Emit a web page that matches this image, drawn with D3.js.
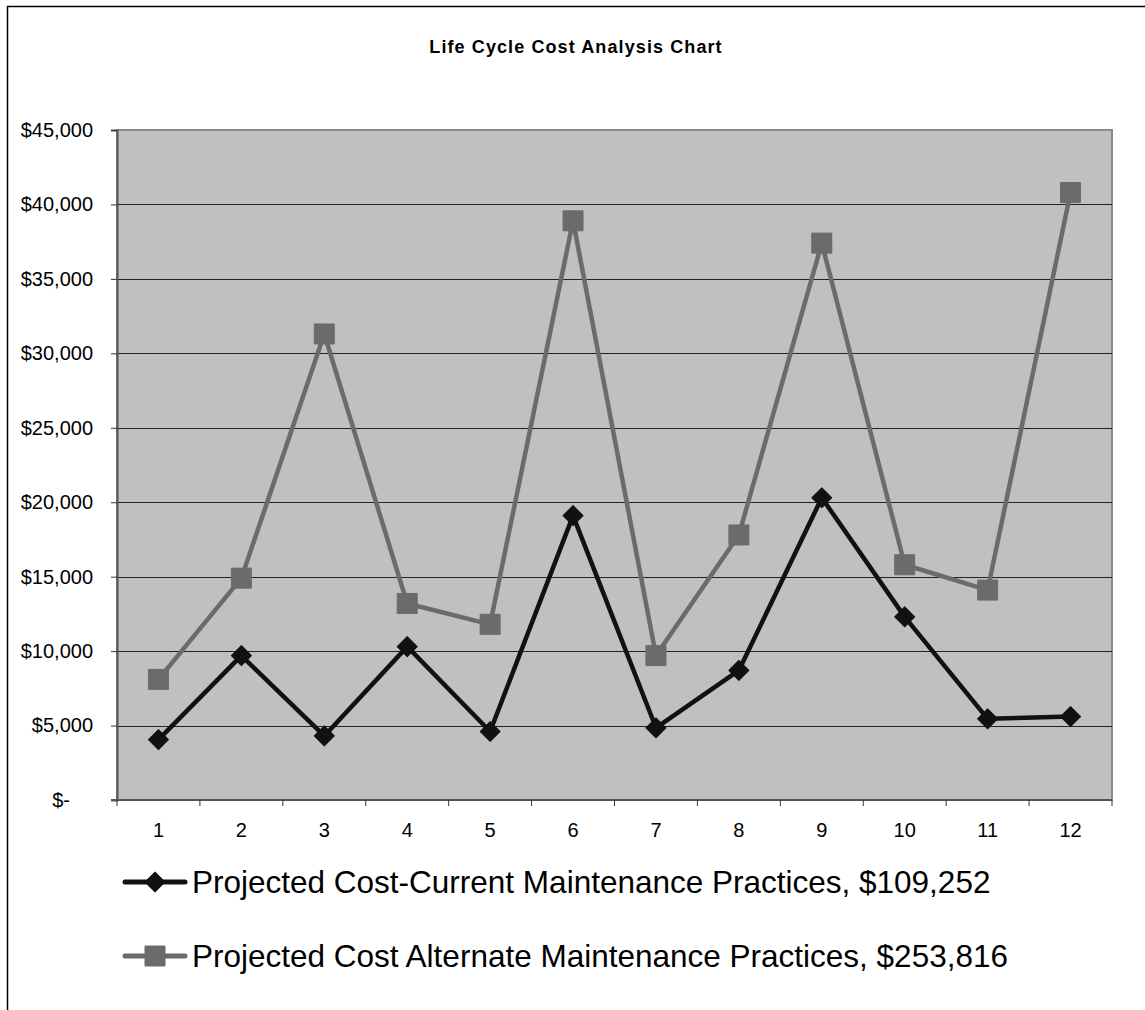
<!DOCTYPE html>
<html>
<head>
<meta charset="utf-8">
<script src="https://cdn.jsdelivr.net/npm/d3@7"></script>
<style>
  body { margin: 0; background: #fff; }
  svg { display: block; font-family: "Liberation Sans", Arial, sans-serif; }
</style>
</head>
<body>
<svg id="chart"></svg>
<script>
// chart data
var periods = ["1", "2", "3", "4", "5", "6", "7", "8", "9", "10", "11", "12"];
var currentCost = [4050, 9700, 4300, 10300, 4600, 19100, 4850, 8700, 20300, 12300, 5450, 5600];
var alternateCost = [8100, 14900, 31300, 13200, 11800, 38900, 9700, 17800, 37400, 15800, 14100, 40800];
var seriesNames = [
  "Projected Cost-Current Maintenance Practices, $109,252",
  "Projected Cost Alternate Maintenance Practices, $253,816"
];
var yTicks = [0, 5000, 10000, 15000, 20000, 25000, 30000, 35000, 40000, 45000];
var title = "Life Cycle Cost Analysis Chart";

var W = 1145, H = 1010;
var plot = {left: 117, top: 130, right: 1112, bottom: 800};

var svg = d3.select("#chart").attr("width", W).attr("height", H);

// outer frame (only top and left edges are visible in the picture)
svg.append("path")
  .attr("d", "M7.5," + H + "V6.5H" + W)
  .attr("fill", "none")
  .attr("stroke", "#000")
  .attr("stroke-width", 1.5);

svg.append("text")
  .attr("x", 576).attr("y", 53)
  .attr("text-anchor", "middle")
  .style("font-size", "18px")
  .style("font-weight", "bold")
  .style("letter-spacing", "1.1px")
  .text(title);

var x = d3.scaleBand().domain(periods).range([plot.left, plot.right]).padding(0);
var y = d3.scaleLinear().domain([0, 45000]).range([plot.bottom, plot.top]);
var cx = function(d, i) { return x(periods[i]) + x.bandwidth() / 2; };

// plot background
svg.append("rect")
  .attr("x", plot.left).attr("y", plot.top)
  .attr("width", plot.right - plot.left).attr("height", plot.bottom - plot.top)
  .attr("fill", "#c0c0c0")
  .attr("stroke", "#8a8a8a")
  .attr("stroke-width", 2);

// gridlines
svg.append("g").selectAll("line")
  .data(yTicks.filter(function(t) { return t > 0 && t < 45000; }))
  .enter().append("line")
    .attr("x1", plot.left).attr("x2", plot.right)
    .attr("y1", function(d) { return Math.round(y(d)) + 0.5; })
    .attr("y2", function(d) { return Math.round(y(d)) + 0.5; })
    .attr("stroke", "#222")
    .attr("stroke-width", 1);

// y axis
var yAxis = svg.append("g")
  .attr("transform", "translate(" + plot.left + ",0)")
  .call(d3.axisLeft(y).tickValues(yTicks).tickSize(6).tickPadding(18)
    .tickFormat(function(d) { return d === 0 ? "$-" : "$" + d3.format(",")(d); }));
yAxis.select(".domain").attr("stroke", "#555").attr("stroke-width", 2);
yAxis.selectAll(".tick line").attr("stroke", "#333");
yAxis.selectAll("text")
  .style("font-size", "20px")
  .attr("fill", "#000")
  .attr("dx", function(d) { return d === 0 ? -23 : 0; });

// x axis: ticks at category boundaries
var xAxis = svg.append("g")
  .attr("transform", "translate(0," + plot.bottom + ")")
  .call(d3.axisBottom(x).tickSize(0).tickPadding(23));
xAxis.select(".domain").attr("stroke", "#555").attr("stroke-width", 2)
  .attr("d", "M" + (plot.left - 6) + ",0H" + plot.right);
xAxis.selectAll("text").style("font-size", "20px").attr("fill", "#000");
xAxis.selectAll(".bound")
  .data(periods.concat(["end"]))
  .enter().append("line")
    .attr("class", "bound")
    .attr("x1", function(d, i) { return i < periods.length ? x(d) : plot.right; })
    .attr("x2", function(d, i) { return i < periods.length ? x(d) : plot.right; })
    .attr("y1", 0).attr("y2", 6)
    .attr("stroke", "#333");

var line = d3.line().x(cx).y(function(d) { return y(d); });

// diamond = square turned 45 degrees
function marker(kind) {
  return kind === "diamond" ? d3.symbol().type(d3.symbolSquare).size(200)()
                            : d3.symbol().type(d3.symbolSquare).size(400)();
}
function markerRotate(kind) { return kind === "diamond" ? " rotate(45)" : ""; }

function drawSeries(values, color, kind) {
  svg.append("path")
    .datum(values)
    .attr("d", line)
    .attr("fill", "none")
    .attr("stroke", color)
    .attr("stroke-width", 4.5)
    .attr("stroke-linejoin", "round");
  svg.append("g").selectAll("path")
    .data(values)
    .enter().append("path")
      .attr("d", marker(kind))
      .attr("transform", function(d, i) {
        return "translate(" + cx(d, i) + "," + y(d) + ")" + markerRotate(kind);
      })
      .attr("fill", color)
      .attr("stroke", color)
      .attr("stroke-width", 1)
      .attr("stroke-linejoin", "round");
}

drawSeries(alternateCost, "#6b6b6b", "square");
drawSeries(currentCost, "#111", "diamond");

// legend
var legend = [
  {name: seriesNames[0], color: "#111", kind: "diamond", y: 882},
  {name: seriesNames[1], color: "#6b6b6b", kind: "square", y: 956}
];
var lg = svg.append("g").selectAll("g")
  .data(legend)
  .enter().append("g")
    .attr("transform", function(d) { return "translate(0," + d.y + ")"; });
lg.append("line")
  .attr("x1", 125).attr("x2", 185)
  .attr("stroke", function(d) { return d.color; })
  .attr("stroke-width", 5)
  .attr("stroke-linecap", "round");
lg.append("path")
  .attr("d", function(d) { return marker(d.kind); })
  .attr("transform", function(d) { return "translate(155,0)" + markerRotate(d.kind); })
  .attr("fill", function(d) { return d.color; })
  .attr("stroke", function(d) { return d.color; })
  .attr("stroke-linejoin", "round");
lg.append("text")
  .attr("x", 192).attr("y", 11)
  .style("font-size", "31.5px")
  .text(function(d) { return d.name; });
</script>
</body>
</html>
